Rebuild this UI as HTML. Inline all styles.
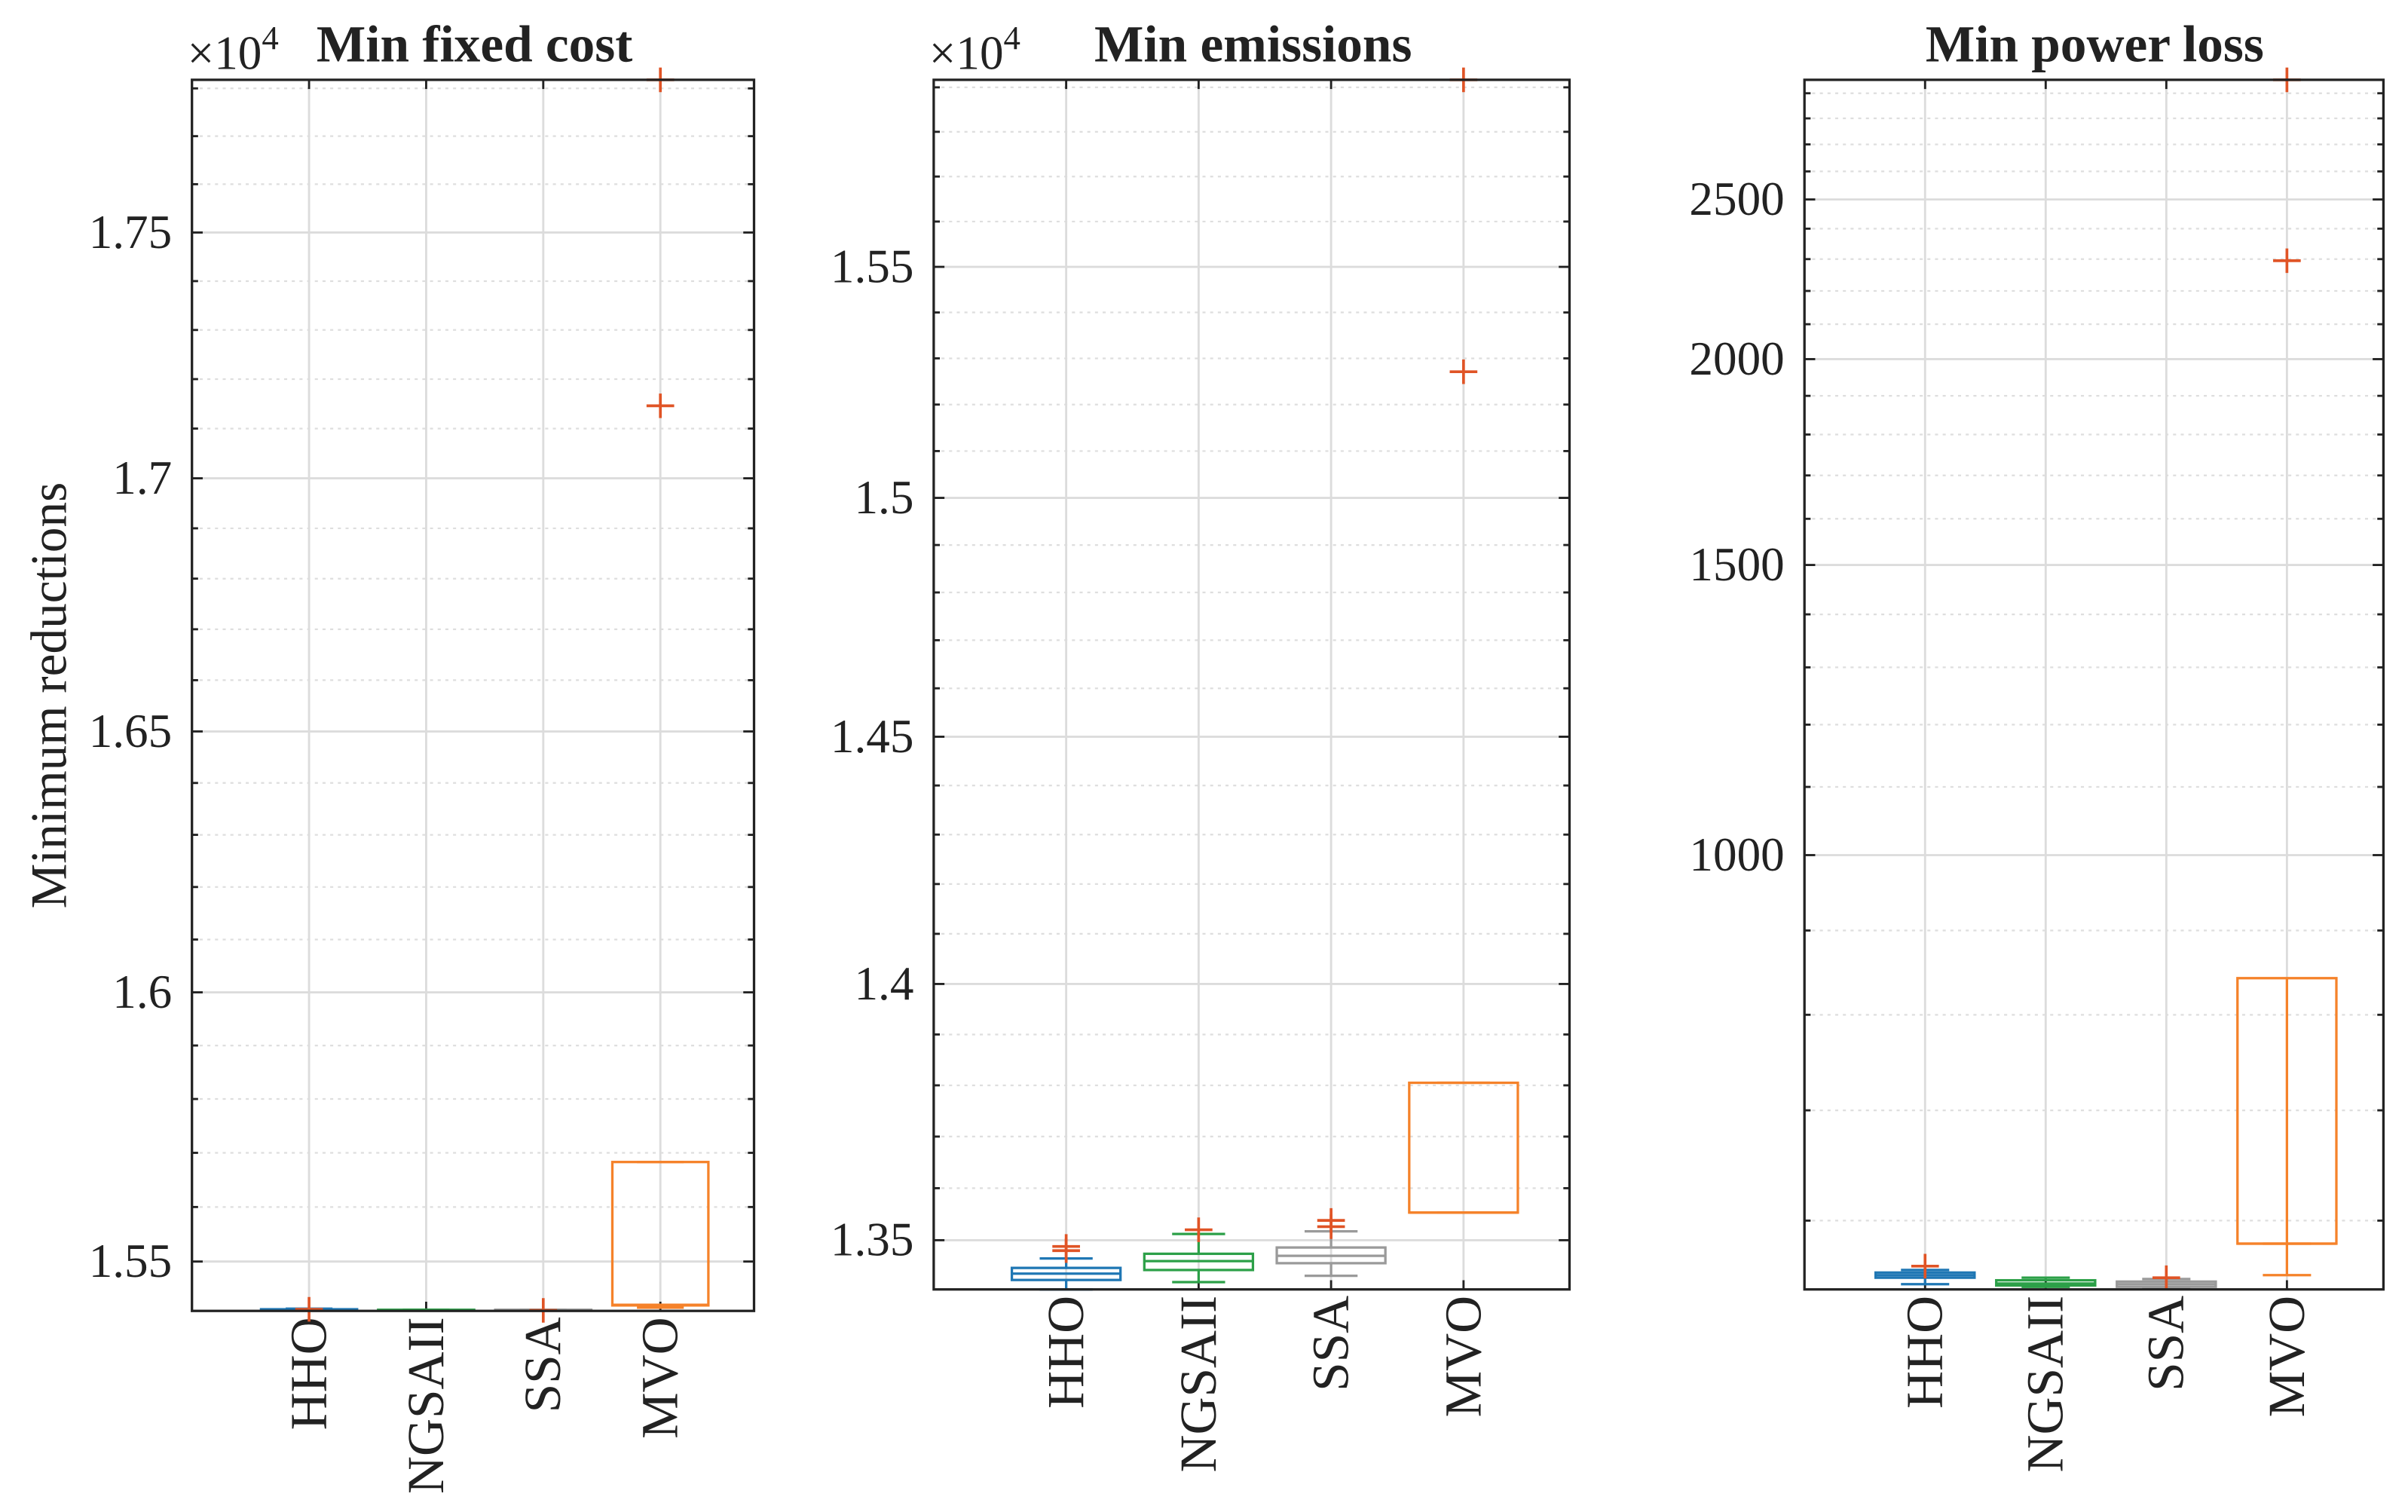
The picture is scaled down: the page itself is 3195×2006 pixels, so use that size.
<!DOCTYPE html>
<html><head><meta charset="utf-8"><style>
html,body{margin:0;padding:0;background:#fff;}
svg{display:block;}
text{font-family:"Liberation Serif",serif;fill:#222;}
</style></head><body>
<svg id="fig" width="3195" height="2006" viewBox="0 0 1568 985" preserveAspectRatio="none" xmlns="http://www.w3.org/2000/svg">
<rect width="1568" height="985" fill="#fff"/>
<text x="0" y="0" font-size="33" text-anchor="middle" transform="translate(43,453) rotate(-90)">Minimum reductions</text>
</svg>
<script>
// shared categories
const categories = ["HHO","NGSAII","SSA","MVO"];
const boxColors = ["#1f77b4","#2ca048","#9a9a9a","#f5822a"];

// Panel 1: Min fixed cost
const p1Titles = ["Min fixed cost"];
const p1Ticks = [15500,16000,16500,17000,17500];
const p1TickLabels = ["1.55","1.6","1.65","1.7","1.75"];
const p1Q1 = [15412,15411,15411,15420];
const p1Med = [15412.5,15411.5,15411.5,15421];
const p1Q3 = [15413,15412,15412,15683];
const p1Lo = [15411,15411,15411,15416];
const p1Hi = [15414,15412,15412,15683];
const p1Out = [[15413],[],[15411],[17146,17818]];

// Panel 2: Min emissions
const p2Titles = ["Min emissions"];
const p2Ticks = [13500,14000,14500,15000,15500];
const p2TickLabels = ["1.35","1.4","1.45","1.5","1.55"];
const p2Q1 = [13424,13443,13456,13553];
const p2Med = [13436,13460,13470,13553];
const p2Q3 = [13447,13474,13486,13805];
const p2Lo = [13406,13420,13432,13553];
const p2Hi = [13465,13512,13517,13805];
const p2Out = [[13480,13488],[13520],[13526,13538],[15271,15917]];

// Panel 3: Min power loss
const p3Titles = ["Min power loss"];
const p3Ticks = [1000,1500,2000,2500];
const p3TickLabels = ["1000","1500","2000","2500"];
const p3Q1 = [554,548,547,581];
const p3Med = [556,549.5,549,581];
const p3Q3 = [558,552,551,842];
const p3Lo = [549,547,546,556];
const p3Hi = [560,554,553,581];
const p3Out = [[563],[],[554],[2295,2955]];

const NS = "http://www.w3.org/2000/svg";
const svg = document.getElementById("fig");
function mk(tag, attrs, parent){
  const e = document.createElementNS(NS, tag);
  for (const k in attrs) e.setAttribute(k, attrs[k]);
  (parent||svg).appendChild(e);
  return e;
}

function drawPanel(P){
  const g = mk("g", {});
  
  
  const L=P.left,R=P.right,T=P.top,B=P.bottom;
  const lmin=Math.log10(P.ymin), lmax=Math.log10(P.ymax);
  const y = v => B - (Math.log10(v)-lmin)/(lmax-lmin)*(B-T);
  const unit = (R-L)/4.8;
  const x = i => L + unit*(i+1);
  for (let v=Math.ceil(P.ymin/100)*100; v<=P.ymax; v+=100){
    const yy=y(v);
    const major = P.ticks.indexOf(v)>=0;
    const gl = mk("line",{x1:L,x2:R,y1:yy,y2:yy,stroke:major?"#dcdcdc":"#dedede","stroke-width":major?1.4:1.1,"stroke-dasharray":major?"none":"2 3"},g);
    
    
    const tl=major?7:4;
    mk("line",{x1:L,x2:L+tl,y1:yy,y2:yy,stroke:"#222","stroke-width":1.4},g);
    mk("line",{x1:R,x2:R-tl,y1:yy,y2:yy,stroke:"#222","stroke-width":1.4},g);
  }
  P.ticks.forEach((v,i)=>{
    const t=mk("text",{x:L-13,y:y(v)+10,"font-size":31,"text-anchor":"end"},g);
    t.textContent=P.tickLabels[i];
    
    
  });
  categories.forEach((c,i)=>{
    const xx=x(i);
    mk("line",{x1:xx,x2:xx,y1:T,y2:B,stroke:"#dcdcdc","stroke-width":1.4},g);
    mk("line",{x1:xx,x2:xx,y1:B,y2:B-6,stroke:"#222","stroke-width":1.4},g);
    mk("line",{x1:xx,x2:xx,y1:T,y2:T+6,stroke:"#222","stroke-width":1.4},g);
    const t=mk("text",{x:0,y:0,"font-size":34,"text-anchor":"end",transform:`translate(${xx+11},${B+4}) rotate(-90)`},g);
    t.textContent=c;
    
    
  });
  categories.forEach((c,i)=>{
    const xx=x(i), hw=unit*0.41, cw=unit*0.2, col=boxColors[i];
    const bg=mk("g",{},g);
    
    
    mk("line",{x1:xx,x2:xx,y1:y(P.q3[i]),y2:y(P.hi[i]),stroke:col,"stroke-width":1.6},bg);
    mk("line",{x1:xx,x2:xx,y1:y(P.q1[i]),y2:y(P.lo[i]),stroke:col,"stroke-width":1.6},bg);
    mk("line",{x1:xx-cw,x2:xx+cw,y1:y(P.hi[i]),y2:y(P.hi[i]),stroke:col,"stroke-width":1.6},bg);
    mk("line",{x1:xx-cw,x2:xx+cw,y1:y(P.lo[i]),y2:y(P.lo[i]),stroke:col,"stroke-width":1.6},bg);
    const yt=y(P.q3[i]), yb=y(P.q1[i]);
    mk("rect",{x:xx-hw,y:yt,width:2*hw,height:Math.max(yb-yt,0.5),fill:"none",stroke:col,"stroke-width":1.6},bg);
    mk("line",{x1:xx-hw,x2:xx+hw,y1:y(P.med[i]),y2:y(P.med[i]),stroke:col,"stroke-width":1.6},bg);
    P.out[i].forEach(v=>{
      const yy=y(v);
      const o=mk("path",{d:`M${xx-9},${yy}H${xx+9}M${xx},${yy-8}V${yy+8}`,stroke:"#e05426","stroke-width":1.8,fill:"none"},bg);
      
      
    });
  });
  const ax=mk("rect",{x:L,y:T,width:R-L,height:B-T,fill:"none",stroke:"#222","stroke-width":1.6},g);
  
  
  const tt=mk("text",{x:P.titleX,y:40,"font-size":34,"font-weight":"bold","text-anchor":"middle"},g);
  tt.textContent=P.title;
  
  
  if (P.exp){
    const e=mk("text",{x:L-3,y:45,"font-size":31},g);
    
    
    e.textContent="\u00d710";
    const s=mk("tspan",{dy:-13,"font-size":22},e);
    s.textContent="4";
  }
}

drawPanel({name:"panel-min-fixed-cost",left:125,right:491,top:52,bottom:854,ymin:15410,ymax:17818,
  ticks:p1Ticks,tickLabels:p1TickLabels,q1:p1Q1,med:p1Med,q3:p1Q3,lo:p1Lo,hi:p1Hi,out:p1Out,title:p1Titles[0],titleX:309,exp:true});
drawPanel({name:"panel-min-emissions",left:608,right:1022,top:52,bottom:840,ymin:13406,ymax:15917,
  ticks:p2Ticks,tickLabels:p2TickLabels,q1:p2Q1,med:p2Med,q3:p2Q3,lo:p2Lo,hi:p2Hi,out:p2Out,title:p2Titles[0],titleX:816,exp:true});
drawPanel({name:"panel-min-power-loss",left:1175,right:1552,top:52,bottom:840,ymin:545,ymax:2955,
  ticks:p3Ticks,tickLabels:p3TickLabels,q1:p3Q1,med:p3Med,q3:p3Q3,lo:p3Lo,hi:p3Hi,out:p3Out,title:p3Titles[0],titleX:1364,exp:false});
</script>
</body></html>
